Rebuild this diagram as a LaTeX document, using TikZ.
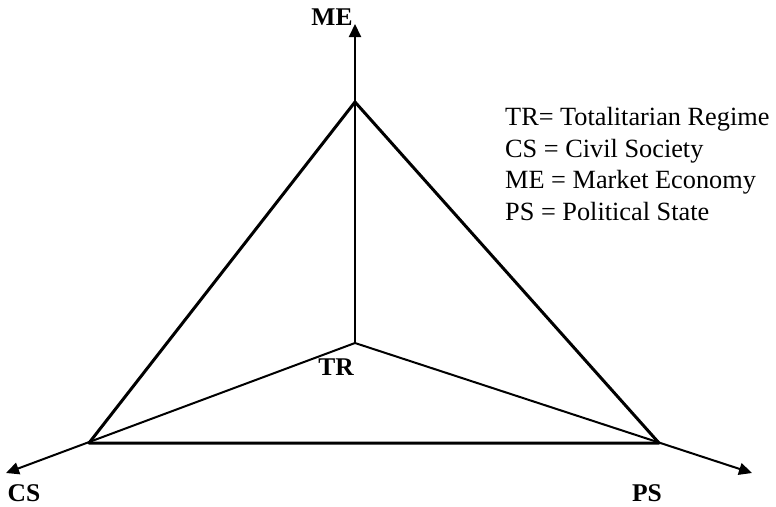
\documentclass[tikz,border=0pt]{standalone}
\usepackage{fontspec}
\setmainfont{Liberation Serif}
\usetikzlibrary{arrows.meta}
\begin{document}
\begin{tikzpicture}[x=1pt,y=-1pt,
  axis/.style={line width=2pt,-{Triangle[length=13pt,width=12pt]}},
  edge/.style={line width=3pt,line cap=round,line join=round},
  axislabel/.style={font=\fontsize{25.5}{30}\selectfont\bfseries,inner sep=0pt},
  legend/.style={font=\fontsize{26.3}{31.5}\selectfont,anchor=base west,inner sep=0pt}]
\useasboundingbox (0,0) rectangle (776,506);
% centre and corners of the triangle
\coordinate (tr) at (355,343);
\coordinate (me) at (355,102);
\coordinate (cs) at (89,443);
\coordinate (ps) at (659,443);
% free ends of the axes
\coordinate (meTip) at (355,24);
\coordinate (csTip) at (6,473);
\coordinate (psTip) at (752,473);
% axes from the centre
\draw[axis] (tr) -- (meTip);
\draw[axis] (tr) -- (csTip);
\draw[axis] (tr) -- (psTip);
% outer triangle
\draw[edge] (me) -- (cs) -- (ps) -- cycle;
% axis labels
\node[axislabel] (meLab) at (332,17) {ME};
\node[axislabel] (csLab) at (24,493) {CS};
\node[axislabel] (psLab) at (647,493) {PS};
\node[axislabel] (trLab) at (336,367) {TR};
% key
\node[legend] (k1) at (505,125) {TR= Totalitarian Regime};
\node[legend] (k2) at (505,157) {CS = Civil Society};
\node[legend] (k3) at (505,188) {ME = Market Economy};
\node[legend] (k4) at (505,220) {PS = Political State};
\end{tikzpicture}
\end{document}
